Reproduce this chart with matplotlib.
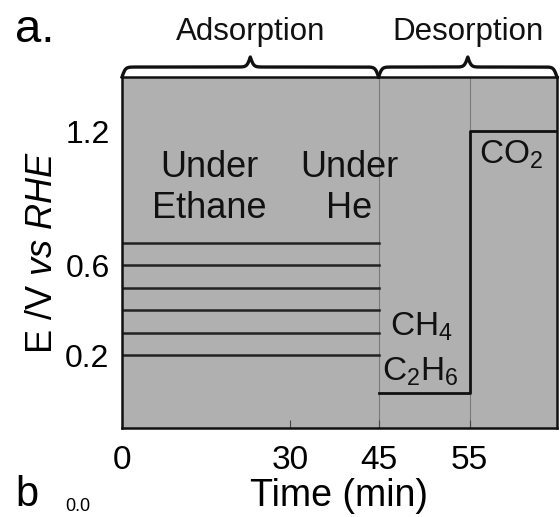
import numpy as np
import matplotlib
matplotlib.use("Agg")
import matplotlib.pyplot as plt

plt.rcParams['font.family'] = ['Liberation Sans', 'DejaVu Sans']
plt.rcParams['mathtext.fontset'] = 'custom'
plt.rcParams['mathtext.rm'] = 'Liberation Sans'
plt.rcParams['mathtext.it'] = 'Liberation Sans:italic'

# data
adsorb_time = [0, 45]
adsorb_levels = [0.7, 0.6, 0.5, 0.4, 0.3, 0.2]
step_time = [45, 55, 55, 65]
step_E = [0.03, 0.03, 1.2, 1.2]
x_ticks = [0, 30, 45, 55]
y_ticks = [0.2, 0.6, 1.2]
phases = ["Adsorption", "Desorption"]
phase_spans = [(0, 45), (45, 65)]

# the time axis is not to scale in the original: piecewise mapping
t_knots = [0, 30, 45, 55, 65]
p_knots = [0, 168, 256, 347, 434]


def fwd(t):
    return np.interp(t, t_knots, p_knots)


def inv(p):
    return np.interp(p, p_knots, t_knots)


fig = plt.figure(figsize=(5.6, 5.17), dpi=100)
ax = fig.add_axes([0.2179, 0.1721, 0.7767, 0.6789])
ax.set_xscale('function', functions=(fwd, inv))
ax.set_xlim(0, 65)
ax.set_ylim(-0.126, 1.441)
ax.set_facecolor('#b0b0b0')

ax.axvline(45, color='#7a7a7a', lw=0.8, zorder=1)
ax.axvline(55, color='#7a7a7a', lw=0.8, zorder=1)

for lev in adsorb_levels:
    ax.plot(adsorb_time, [lev, lev], color='#222222', lw=1.8, zorder=2)
ax.plot(step_time, step_E, color='#111111', lw=2.0, zorder=3)

ax.set_xticks(x_ticks)
ax.set_xticklabels([str(v) for v in x_ticks])
ax.set_yticks(y_ticks)
ax.set_yticklabels([str(v) for v in y_ticks])
ax.tick_params(axis='x', direction='in', length=6, width=0.8, color='#444444',
               labelsize=24, pad=12)
ax.tick_params(axis='y', length=0, labelsize=23, pad=9)
for s in ax.spines.values():
    s.set_linewidth(1.8)
    s.set_color('#111111')

ax.set_xlabel("Time (min)", fontsize=27, labelpad=2)
ax.set_ylabel("E /V $\\it{vs\\ RHE}$", fontsize=26, labelpad=4)

ax.text(15.5, 0.945, "Under\nEthane", fontsize=26, ha='center', va='center',
        multialignment='center', linespacing=1.2, color='#111111')
ax.text(40, 0.945, "Under\nHe", fontsize=26, ha='center', va='center',
        multialignment='center', linespacing=1.2, color='#111111')
ax.text(56.1, 1.093, "$\\mathrm{CO_2}$", fontsize=24, ha='left', va='center',
        color='#111111')
ax.text(46.2, 0.325, "$\\mathrm{CH_4}$", fontsize=24, ha='left', va='center',
        color='#111111')
ax.text(45.4, 0.124, "$\\mathrm{C_2H_6}$", fontsize=24, ha='left', va='center',
        color='#111111')

# curly braces above the panel (axes coordinates)
ax_h = 351.0
for name, (t0, t1) in zip(phases, phase_spans):
    f0 = fwd(t0) / fwd(65)
    f1 = fwd(t1) / fwd(65)
    half = (f1 - f0) / 2
    xh = np.linspace(0, half, 200)
    beta = 260
    yh = 1 / (1 + np.exp(-beta * (xh - xh[0]))) + 1 / (1 + np.exp(-beta * (xh - xh[-1])))
    xs = np.concatenate([f0 + xh, f0 + half + xh[1:]])
    ys = np.concatenate([yh, yh[-2::-1]])
    ys = 1 + (ys - 0.5) * 20 / ax_h
    ax.plot(xs, ys, transform=ax.transAxes, color='#111111', lw=2.4,
            clip_on=False)
    ax.text((f0 + f1) / 2, 1.128, name, transform=ax.transAxes, fontsize=22.5,
            ha='center', va='center', color='#111111')

fig.text(15 / 560, 1 - 42 / 517, "a.", fontsize=34, ha='left', va='baseline')
fig.text(15 / 560, 2 / 517, "b", fontsize=30, ha='left', va='bottom')
fig.text(65 / 560, 2 / 517, "0.0", fontsize=13, ha='left', va='bottom')

fig.savefig("out.png", dpi=100)
